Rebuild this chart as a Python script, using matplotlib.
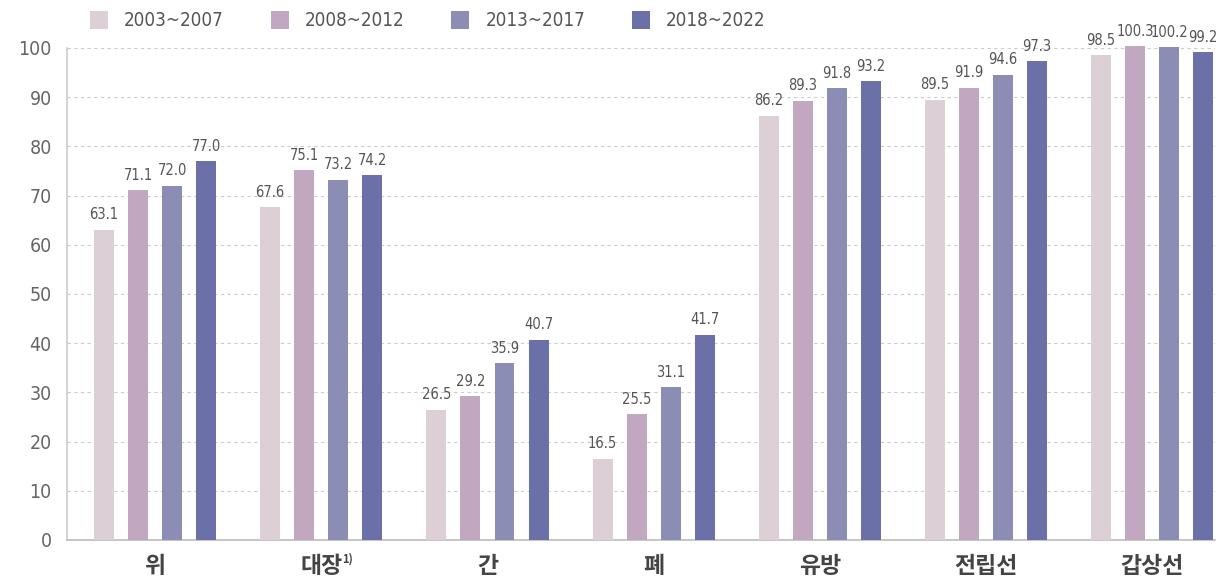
import numpy as np
import matplotlib.pyplot as plt
from matplotlib import font_manager

# 데이터
categories = ['위', '대장', '간', '폐', '유방', '전립선', '갑상선']
periods = ['2003~2007', '2008~2012', '2013~2017', '2018~2022']
v2003 = [63.1, 67.6, 26.5, 16.5, 86.2, 89.5, 98.5]
v2008 = [71.1, 75.1, 29.2, 25.5, 89.3, 91.9, 100.3]
v2013 = [72.0, 73.2, 35.9, 31.1, 91.8, 94.6, 100.2]
v2018 = [77.0, 74.2, 40.7, 41.7, 93.2, 97.3, 99.2]
yticks = [0, 10, 20, 30, 40, 50, 60, 70, 80, 90, 100]

colors = ['#DDCFD6', '#C1A7C0', '#8B8DB5', '#6B70A8']

kr_font = 'Noto Sans CJK KR'
num_fp = font_manager.FontProperties(family='DejaVu Sans', stretch='condensed', size=10.5)

fig = plt.figure(figsize=(12.19, 5.85), dpi=100)
ax = fig.add_axes([0.055, 0.077, 0.942, 0.841])

x = np.arange(len(categories))
step = 0.205
w = 0.12
series = [v2003, v2008, v2013, v2018]
for i, vals in enumerate(series):
    pos = x + (i - 1.5) * step
    ax.bar(pos, vals, width=w, color=colors[i], label=periods[i], zorder=3, clip_on=False)
    for p, v in zip(pos, vals):
        ax.text(p, v + 1.5, f'{v:.1f}', ha='center', va='bottom', fontproperties=num_fp,
                color='#555555')

ax.set_xlim(-0.53, 6.38)
ax.set_ylim(0, 100)
ax.set_yticks(yticks)
ax.set_yticklabels([str(t) for t in yticks], family='DejaVu Sans', stretch='condensed',
                   fontsize=14, color='#666666')
ax.yaxis.grid(True, linestyle=(0, (3, 3)), color='#CCCCCC', linewidth=0.8, zorder=0)
ax.tick_params(axis='y', length=0, pad=11)
ax.tick_params(axis='x', length=0, pad=11)
ax.set_xticks(x)
ax.set_xticklabels(categories, family=kr_font, fontweight='bold', fontsize=16.5, color='#444444')

for s in ['top', 'right']:
    ax.spines[s].set_visible(False)
ax.spines['left'].set_color('#CCCCCC')
ax.spines['bottom'].set_color('#BBBBBB')
ax.spines['left'].set_linewidth(1.2)
ax.spines['bottom'].set_linewidth(1.2)

# 대장 위첨자
ax.annotate('1)', xy=(1, 0), xycoords='data', xytext=(15, -14), textcoords='offset points',
            fontsize=8, fontweight='bold', color='#444444', family=kr_font, ha='left', va='center')

fig.legend(loc='upper left', bbox_to_anchor=(0.074, 0.982), ncol=4, frameon=False,
           prop=font_manager.FontProperties(family='DejaVu Sans', stretch='condensed', size=13.5),
           handlelength=0.96, handleheight=1.1, borderpad=0, borderaxespad=0,
           columnspacing=2.5, handletextpad=0.85, labelcolor='#555555')

fig.savefig('out.png', dpi=100)
